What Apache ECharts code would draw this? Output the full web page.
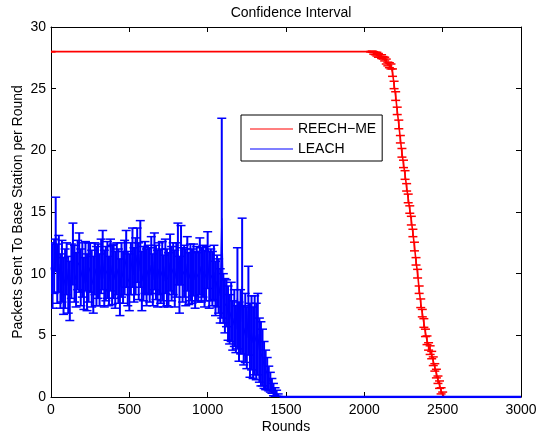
<!DOCTYPE html>
<html>
<head>
<meta charset="utf-8">
<script src="https://cdn.jsdelivr.net/npm/echarts@6/dist/echarts.min.js"></script>
<style>
  html, body { margin: 0; padding: 0; background: #fff; }
  #chart { width: 538px; height: 437px; }
</style>
</head>
<body>
<div id="chart"></div>
<script>
// REECH-ME: rounds, mean and half width of the interval
var reechRounds = [0, 2040, 2050, 2060, 2070, 2080, 2090, 2100, 2110, 2120, 2130, 2140, 2150, 2160, 2170, 2180,
  2190, 2200, 2210, 2220, 2230, 2240, 2250, 2260, 2270, 2280, 2290, 2300, 2310, 2320, 2330, 2340, 2350,
  2360, 2370, 2380, 2390, 2400, 2410, 2420, 2430, 2440, 2450, 2460, 2470, 2480, 2490, 2500, 2510, 3000];
var reechMean = [28, 28, 28.0, 27.9, 27.85, 27.8, 27.7, 27.65, 27.6, 27.5, 27.4, 27.2, 27.0, 26.9, 26.8, 26.3,
  25.3, 24.4, 23.2, 22.1, 20.9, 19.8, 18.9, 18.0, 17.0, 16.1, 15.2, 14.3, 13.3, 12.2, 11.0, 10.0, 8.7,
  7.6, 6.8, 6.0, 5.2, 4.6, 4.1, 3.8, 3.4, 2.9, 2.4, 1.9, 1.4, 1.0, 0.5, 0.2, 0, 0];
var reechErr = [0, 0, 0.05, 0.1, 0.1, 0.15, 0.15, 0.1, 0.15, 0.1, 0.15, 0.2, 0.15, 0.2, 0.2, 0.3,
  0.3, 0.35, 0.3, 0.35, 0.3, 0.35, 0.3, 0.35, 0.3, 0.35, 0.3, 0.35, 0.3, 0.35, 0.3, 0.35, 0.3,
  0.35, 0.3, 0.35, 0.3, 0.35, 0.3, 0.35, 0.3, 0.35, 0.3, 0.35, 0.3, 0.3, 0.25, 0.2, 0, 0];

// LEACH: one sample every 10 rounds from round 0
var leachStep = 10;
var leachMean = [
  10.5, 9.8, 10.6, 13.2, 10.0, 10.8, 9.4, 10.2, 9.0, 9.6,
  10.4, 9.1, 8.6, 10.2, 11.6, 10.0, 9.5, 10.7, 10.9, 9.7,
  10.3, 9.2, 10.6, 9.3, 10.1, 10.5, 9.6, 9.1, 10.4, 9.8,
  10.2, 9.5, 10.6, 11.1, 9.6, 10.0, 10.3, 9.4, 10.7, 9.9,
  10.2, 9.5, 10.4, 9.8, 8.9, 10.3, 9.7, 10.5, 11.2, 9.6,
  9.3, 10.4, 11.3, 9.9, 10.6, 11.5, 10.2, 11.6, 9.4, 10.0,
  10.5, 9.7, 10.3, 9.9, 10.7, 9.5, 11.0, 10.1, 9.6, 10.4,
  9.8, 10.2, 9.4, 10.6, 9.7, 9.5, 10.9, 10.0, 10.4, 9.6,
  10.3, 11.6, 9.1, 11.5, 9.9, 10.2, 9.7, 10.8, 9.6, 10.1,
  9.8, 10.3, 9.5, 10.0, 9.7, 10.6, 9.9, 10.2, 9.6, 10.0,
  11.1, 9.5, 9.9, 9.6, 10.1, 8.8, 9.4, 9.0, 8.2, 14.5,
  8.0, 7.4, 7.6, 6.8, 6.3, 6.9, 5.8, 6.4, 5.5, 8.0,
  5.3, 6.1, 9.0, 5.0, 5.6, 4.8, 7.0, 4.6, 5.2, 4.4,
  5.0, 4.5, 5.1, 3.8, 3.5, 3.2, 2.6, 2.2, 1.9, 1.5,
  1.2, 0.9, 0.6, 0.4, 0.3, 0.15, 0];
var leachErr = [
  2.0, 2.6, 2.2, 3.0, 2.4, 2.3, 2.2, 2.5, 2.3, 2.4,
  2.1, 2.3, 2.4, 2.2, 2.5, 2.3, 2.2, 2.0, 2.4, 2.3,
  2.2, 2.1, 2.0, 2.3, 2.4, 2.0, 2.3, 2.3, 2.1, 2.4,
  2.2, 2.1, 2.2, 2.4, 2.3, 2.2, 2.3, 2.0, 2.1, 2.4,
  2.2, 2.3, 2.1, 2.2, 2.3, 2.2, 2.1, 2.2, 2.3, 2.2,
  2.3, 2.1, 2.4, 2.2, 2.3, 2.2, 2.3, 2.7, 2.4, 2.2,
  2.1, 2.3, 2.0, 2.2, 2.3, 2.1, 2.3, 2.2, 2.3, 2.1,
  2.2, 2.4, 2.1, 2.2, 2.3, 2.2, 2.3, 2.2, 2.1, 2.3,
  2.2, 2.5, 2.3, 2.4, 2.2, 2.1, 2.3, 2.2, 2.1, 2.3,
  2.2, 2.1, 2.3, 2.2, 2.0, 2.3, 2.2, 2.1, 2.3, 2.2,
  2.3, 2.3, 2.1, 2.2, 2.2, 2.2, 2.1, 2.2, 2.2, 8.1,
  2.0, 2.2, 1.9, 2.2, 2.0, 2.4, 2.0, 2.3, 1.9, 4.1,
  2.4, 2.6, 5.5, 2.4, 2.8, 2.5, 3.6, 3.0, 3.0, 2.9,
  3.2, 3.1, 3.3, 2.6, 2.6, 2.3, 1.9, 1.6, 1.3, 1.0,
  0.8, 0.6, 0.5, 0.35, 0.25, 0.1, 0];
var leachTail = [[1460, 0], [3000, 0]];

var xTicks = { min: 0, max: 3000, interval: 500 };
var yTicks = { min: 0, max: 30, interval: 5 };

var FONT = '"Liberation Sans", Arial, Helvetica, sans-serif';
var RED = '#ff0000';
var BLUE = '#0000ff';

function linePoints(rounds, mean) {
  return mean.map(function (m, i) { return [rounds[i], m]; });
}
function barPoints(rounds, mean, err) {
  return mean.map(function (m, i) { return [rounds[i], m - err[i], m + err[i]]; });
}

var leachRounds = leachMean.map(function (m, i) { return i * leachStep; });

// vertical bar plus two caps, placed through the grid's scales
function makeErrRender(barWidth) {
  return function (params, api) {
    var x = api.value(0);
    var lo = api.coord([x, api.value(1)]);
    var hi = api.coord([x, api.value(2)]);
    var w = 4.5;
    var color = api.visual('color');
    var bar = { stroke: color, lineWidth: barWidth };
    var cap = { stroke: color, lineWidth: 1.5 };
    return {
      type: 'group',
      children: [
        { type: 'line', shape: { x1: lo[0], y1: lo[1], x2: hi[0], y2: hi[1] }, style: bar },
        { type: 'line', shape: { x1: lo[0] - w, y1: lo[1], x2: lo[0] + w, y2: lo[1] }, style: cap },
        { type: 'line', shape: { x1: hi[0] - w, y1: hi[1], x2: hi[0] + w, y2: hi[1] }, style: cap }
      ]
    };
  };
}

var chart = echarts.init(document.getElementById('chart'), null, { renderer: 'canvas' });

var boxAxis = {
  axisLine: { show: true, onZero: false, lineStyle: { color: '#000', width: 1 } },
  axisTick: { show: true, inside: true, length: 5, lineStyle: { color: '#000' } },
  splitLine: { show: false }
};

var option = {
  animation: false,
  backgroundColor: '#fff',
  textStyle: { fontFamily: FONT, color: '#000' },
  title: {
    text: 'Confidence Interval',
    left: 286,
    top: 1,
    textAlign: 'center',
    textStyle: { fontFamily: FONT, fontSize: 14, fontWeight: 'normal', color: '#000' }
  },
  grid: { left: 51, right: 17, top: 27, bottom: 40, outerBoundsMode: 'none', containLabel: false },
  legend: {
    left: 241,
    top: 115,
    orient: 'vertical',
    backgroundColor: '#fff',
    borderColor: '#000',
    borderWidth: 1,
    padding: [7, 6, 5, 9],
    itemGap: 6,
    itemWidth: 43,
    itemHeight: 1,
    textStyle: { fontFamily: FONT, fontSize: 14, lineHeight: 14, color: '#000' },
    data: [
      { name: 'REECH−ME', icon: 'rect' },
      { name: 'LEACH', icon: 'rect' }
    ]
  },
  xAxis: [
    Object.assign({
      type: 'value', position: 'bottom',
      min: xTicks.min, max: xTicks.max, interval: xTicks.interval,
      name: 'Rounds', nameLocation: 'middle', nameGap: 23, nameMoveOverlap: false,
      nameTextStyle: { fontFamily: FONT, fontSize: 14, color: '#000' },
      axisLabel: { fontFamily: FONT, fontSize: 14, color: '#000', margin: 6,
        formatter: function (v) { return String(v); } }
    }, boxAxis),
    Object.assign({
      type: 'value', position: 'top',
      min: xTicks.min, max: xTicks.max, interval: xTicks.interval,
      axisLabel: { show: false }
    }, boxAxis)
  ],
  yAxis: [
    Object.assign({
      type: 'value', position: 'left',
      min: yTicks.min, max: yTicks.max, interval: yTicks.interval,
      name: 'Packets Sent To Base Station per Round', nameLocation: 'middle', nameGap: 26, nameMoveOverlap: false,
      nameTextStyle: { fontFamily: FONT, fontSize: 14, color: '#000' },
      axisLabel: { fontFamily: FONT, fontSize: 14, color: '#000', margin: 5 }
    }, boxAxis),
    Object.assign({
      type: 'value', position: 'right',
      min: yTicks.min, max: yTicks.max, interval: yTicks.interval,
      axisLabel: { show: false }
    }, boxAxis)
  ],
  series: [
    {
      name: 'REECH−ME',
      type: 'line',
      data: linePoints(reechRounds, reechMean),
      symbol: 'none',
      lineStyle: { color: RED, width: 1.6 },
      itemStyle: { color: RED },
      z: 2
    },
    {
      name: 'REECH−ME bars',
      type: 'custom',
      renderItem: makeErrRender(1.5),
      data: barPoints(reechRounds, reechMean, reechErr),
      encode: { x: 0, y: [1, 2] },
      itemStyle: { color: RED },
      clip: true,
      z: 2
    },
    {
      name: 'LEACH',
      type: 'line',
      data: linePoints(leachRounds, leachMean),
      symbol: 'none',
      lineStyle: { color: BLUE, width: 1.2 },
      itemStyle: { color: BLUE },
      z: 3
    },
    {
      name: 'LEACH bars',
      type: 'custom',
      renderItem: makeErrRender(2),
      data: barPoints(leachRounds, leachMean, leachErr),
      encode: { x: 0, y: [1, 2] },
      itemStyle: { color: BLUE },
      clip: true,
      z: 3
    },
    {
      name: 'LEACH tail',
      type: 'line',
      data: leachTail,
      symbol: 'none',
      lineStyle: { color: BLUE, width: 2.5 },
      itemStyle: { color: BLUE },
      z: 4
    }
  ]
};

chart.setOption(option);
</script>
</body>
</html>
